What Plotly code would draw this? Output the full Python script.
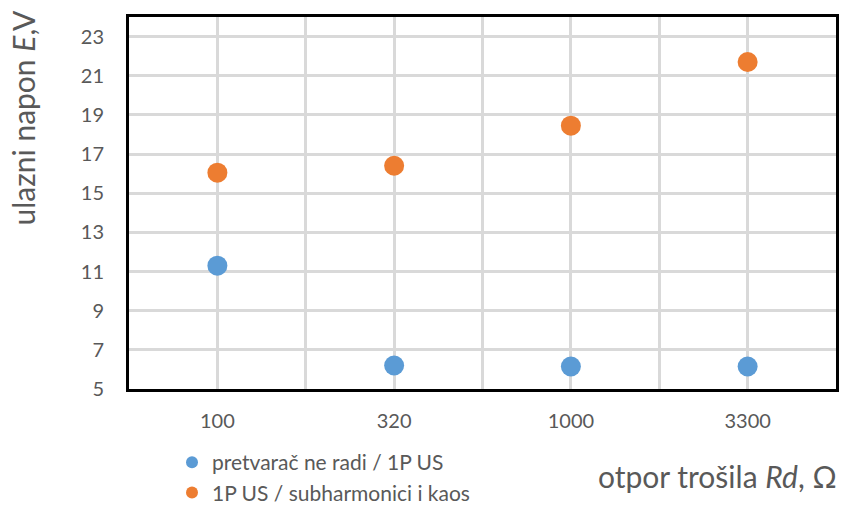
import plotly.graph_objects as go

categories = ["100", "320", "1000", "3300"]
series1_name = "pretvarač ne radi / 1P US"
series1_values = [11.3, 6.2, 6.15, 6.15]
series2_name = "1P US / subharmonici i kaos"
series2_values = [16.05, 16.4, 18.45, 21.7]
y_ticks = [5, 7, 9, 11, 13, 15, 17, 19, 21, 23]

xpos = list(range(len(categories)))
grid_vals = [i * 0.5 - 0.5 for i in range(2 * len(categories) + 1)]
grid_text = [categories[int(v)] if float(v).is_integer() and 0 <= v < len(categories) else "" for v in grid_vals]

FONT = "Lato"
GRAY = "#595959"
L, R, T, B = 129, 6, 17, 118
PW, PH = 842 - L - R, 507 - T - B

fig = go.Figure()
fig.add_trace(go.Scatter(x=xpos, y=series1_values, mode="markers", name=series1_name,
                         marker=dict(color="#5B9BD5", size=20)))
fig.add_trace(go.Scatter(x=xpos, y=series2_values, mode="markers", name=series2_name,
                         marker=dict(color="#ED7D31", size=20)))

fig.update_layout(
    width=842, height=507,
    margin=dict(l=L, r=R, t=T, b=B, autoexpand=False),
    paper_bgcolor="white", plot_bgcolor="white",
    font=dict(family=FONT, color=GRAY, size=20),
    showlegend=True,
    legend=dict(x=(172 - L) / PW, y=-(442 - (T + PH)) / PH, xanchor="left", yanchor="top",
                font=dict(size=21, color=GRAY, family=FONT),
                itemsizing="constant", tracegroupgap=0, itemwidth=30,
                bgcolor="rgba(0,0,0,0)"),
    xaxis=dict(range=[-0.5, len(categories) - 0.5], tickmode="array",
               tickvals=grid_vals, ticktext=grid_text,
               showgrid=True, gridcolor="#D9D9D9", gridwidth=3,
               showline=True, linecolor="black", linewidth=3, mirror=True,
               ticks="", zeroline=False, ticklabelstandoff=12,
               tickfont=dict(size=20, color=GRAY)),
    yaxis=dict(range=[5, 24], tickmode="array", tickvals=y_ticks,
               showgrid=True, gridcolor="#D9D9D9", gridwidth=3,
               showline=True, linecolor="black", linewidth=3, mirror=True,
               ticks="", zeroline=False, ticklabelstandoff=18,
               tickfont=dict(size=20, color=GRAY)),
    annotations=[
        dict(text="ulazni napon <i>E</i>,V", xref="paper", yref="paper",
             x=(22 - L) / PW, y=1 + (T - 9) / PH, xanchor="center", yanchor="top",
             textangle=-90, showarrow=False,
             font=dict(size=30, color=GRAY, family=FONT)),
        dict(text="otpor trošila <i>Rd</i>, Ω", xref="paper", yref="paper",
             x=(839 - L) / PW, y=-(476 - (T + PH)) / PH, xanchor="right", yanchor="middle",
             showarrow=False,
             font=dict(size=30, color=GRAY, family=FONT)),
    ],
)

fig.write_html("out.html", config={"displayModeBar": False},
               post_script="document.body.style.margin='0';document.body.style.overflow='hidden';")
